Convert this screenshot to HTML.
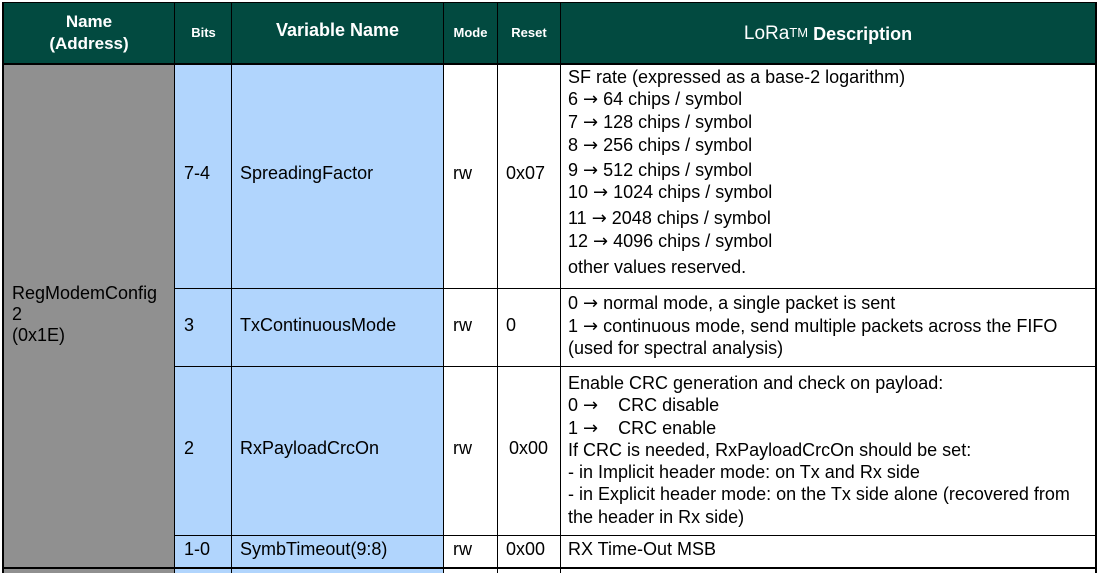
<!DOCTYPE html>
<html><head><meta charset="utf-8"><style>
body{margin:0;width:1099px;height:573px;background:#fff;position:relative;overflow:hidden;font-family:"Liberation Sans",Arial,sans-serif;color:#000}
div{position:absolute;box-sizing:border-box}
.h{background:#024a40;color:#fff;font-weight:bold;text-align:center;display:flex;align-items:center;justify-content:center}
.hl{position:absolute;background:#000}
.t{font-size:18px;white-space:nowrap;line-height:18px}
.a{font-family:"DejaVu Sans",sans-serif;font-size:18px;line-height:18px}
</style></head><body>
<div class="h" style="left:3px;top:3px;width:1093px;height:61px"></div>
<div class="h" style="left:3px;top:5px;width:172px;height:55px;font-size:17px;line-height:22px">Name<br>(Address)</div>
<div class="h" style="left:175px;top:3px;width:57px;height:58px;font-size:13px">Bits</div>
<div class="h" style="left:232px;top:3px;width:211px;height:54px;font-size:18px">Variable Name</div>
<div class="h" style="left:443px;top:3px;width:55px;height:58px;font-size:13px">Mode</div>
<div class="h" style="left:498px;top:3px;width:62px;height:58px;font-size:13px">Reset</div>
<div class="h" style="left:560px;top:3px;width:536px;height:62px;font-size:18px"><span style="font-weight:normal;font-size:19px">LoRa</span><sup style="font-weight:normal;font-size:13px;position:relative;top:-2px">TM</sup>&nbsp;Description</div>
<div style="left:3px;top:64px;width:172px;height:509px;background:#909090"></div>
<div style="left:175px;top:64px;width:268px;height:509px;background:#b1d5fd"></div>
<div class="hl" style="left:3px;top:63px;width:1093px;height:2px"></div>
<div class="hl" style="left:175px;top:288px;width:921px;height:1px"></div>
<div class="hl" style="left:175px;top:366px;width:921px;height:1px"></div>
<div class="hl" style="left:175px;top:535px;width:921px;height:1px"></div>
<div class="hl" style="left:3px;top:567px;width:1093px;height:2px"></div>
<div class="hl" style="left:3px;top:2px;width:1093px;height:1px"></div>
<div class="hl" style="left:2px;top:2px;width:2px;height:571px"></div>
<div class="hl" style="left:174px;top:2px;width:1px;height:571px"></div>
<div class="hl" style="left:231px;top:2px;width:1px;height:571px"></div>
<div class="hl" style="left:443px;top:2px;width:1px;height:571px"></div>
<div class="hl" style="left:497px;top:2px;width:1px;height:571px"></div>
<div class="hl" style="left:560px;top:2px;width:1px;height:571px"></div>
<div class="hl" style="left:1095px;top:2px;width:2px;height:571px"></div>
<div class="t" style="left:12px;top:283px;line-height:21px">RegModemConfig<br>2<br>(0x1E)</div>
<div class="t" style="left:184px;top:164px">7-4</div>
<div class="t" style="left:240px;top:164px">SpreadingFactor</div>
<div class="t" style="left:453px;top:164px">rw</div>
<div class="t" style="left:506px;top:164px">0x07</div>
<div class="t" style="left:568px;top:68px">SF rate (expressed as a base-2 logarithm)</div>
<div class="t" style="left:568px;top:90px">6 <span class="a">→</span> 64 chips / symbol</div>
<div class="t" style="left:568px;top:113px">7 <span class="a">→</span> 128 chips / symbol</div>
<div class="t" style="left:568px;top:136px">8 <span class="a">→</span> 256 chips / symbol</div>
<div class="t" style="left:568px;top:161px">9 <span class="a">→</span> 512 chips / symbol</div>
<div class="t" style="left:568px;top:183px">10 <span class="a">→</span> 1024 chips / symbol</div>
<div class="t" style="left:568px;top:209px">11 <span class="a">→</span> 2048 chips / symbol</div>
<div class="t" style="left:568px;top:232px">12 <span class="a">→</span> 4096 chips / symbol</div>
<div class="t" style="left:568px;top:258px">other values reserved.</div>
<div class="t" style="left:184px;top:316px">3</div>
<div class="t" style="left:240px;top:316px">TxContinuousMode</div>
<div class="t" style="left:453px;top:316px">rw</div>
<div class="t" style="left:506px;top:316px">0</div>
<div class="t" style="left:568px;top:292px;line-height:22.5px">0 <span class="a">→</span> normal mode, a single packet is sent<br>1 <span class="a">→</span> continuous mode, send multiple packets across the FIFO<br>(used for spectral analysis)</div>
<div class="t" style="left:184px;top:439px">2</div>
<div class="t" style="left:240px;top:439px">RxPayloadCrcOn</div>
<div class="t" style="left:453px;top:439px">rw</div>
<div class="t" style="left:509px;top:439px">0x00</div>
<div class="t" style="left:568px;top:372px;line-height:22.3px">Enable CRC generation and check on payload:<br>0 <span class="a">→</span>&nbsp;&nbsp;&nbsp; CRC disable<br>1 <span class="a">→</span>&nbsp;&nbsp;&nbsp; CRC enable<br>If CRC is needed, RxPayloadCrcOn should be set:<br>- in Implicit header mode: on Tx and Rx side<br>- in Explicit header mode: on the Tx side alone (recovered from<br>the header in Rx side)</div>
<div class="t" style="left:184px;top:540px">1-0</div>
<div class="t" style="left:240px;top:540px">SymbTimeout(9:8)</div>
<div class="t" style="left:453px;top:540px">rw</div>
<div class="t" style="left:506px;top:540px">0x00</div>
<div class="t" style="left:568px;top:540px">RX Time-Out MSB</div>
</body></html>
